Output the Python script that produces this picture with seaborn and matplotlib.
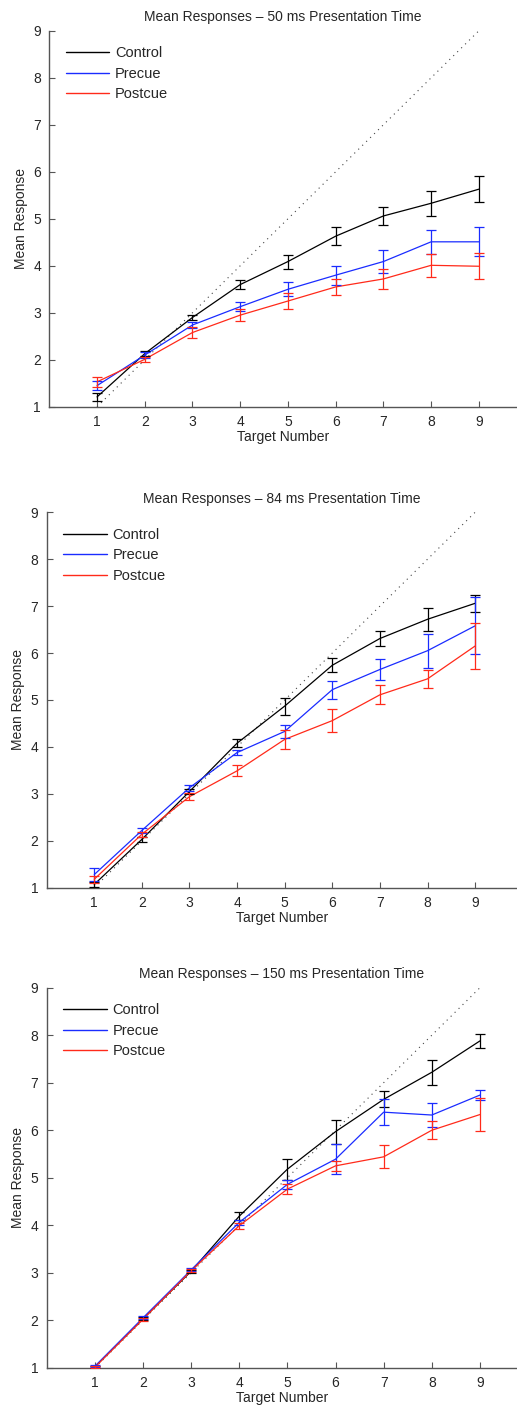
import numpy as np
import pandas as pd
import matplotlib
matplotlib.use("Agg")
import matplotlib.pyplot as plt
import seaborn as sns

sns.set_theme(style="white")
plt.rcParams["font.family"] = ["Liberation Sans", "DejaVu Sans"]

# Target numbers shown on the x axis
targets = [1, 2, 3, 4, 5, 6, 7, 8, 9]

# 50 ms presentation time
ctrl_50 = [1.21, 2.13, 2.90, 3.60, 4.09, 4.63, 5.06, 5.33, 5.63]
ctrl_50_err = [0.08, 0.05, 0.06, 0.10, 0.15, 0.19, 0.19, 0.27, 0.27]
pre_50 = [1.45, 2.10, 2.74, 3.13, 3.50, 3.80, 4.09, 4.51, 4.51]
pre_50_err = [0.10, 0.06, 0.07, 0.10, 0.15, 0.20, 0.25, 0.26, 0.31]
post_50 = [1.53, 2.01, 2.58, 2.95, 3.25, 3.55, 3.72, 4.01, 3.99]
post_50_err = [0.10, 0.05, 0.11, 0.13, 0.17, 0.17, 0.22, 0.24, 0.28]

# 84 ms presentation time
ctrl_84 = [1.07, 2.03, 3.05, 4.08, 4.87, 5.74, 6.31, 6.72, 7.06]
ctrl_84_err = [0.05, 0.05, 0.05, 0.08, 0.18, 0.15, 0.15, 0.24, 0.18]
pre_84 = [1.28, 2.22, 3.13, 3.88, 4.33, 5.22, 5.65, 6.05, 6.58]
pre_84_err = [0.14, 0.06, 0.06, 0.06, 0.14, 0.19, 0.23, 0.36, 0.61]
post_84 = [1.18, 2.14, 2.94, 3.49, 4.16, 4.56, 5.11, 5.45, 6.15]
post_84_err = [0.07, 0.05, 0.08, 0.12, 0.20, 0.24, 0.20, 0.19, 0.48]

# 150 ms presentation time
ctrl_150 = [1.02, 2.03, 3.03, 4.19, 5.18, 5.97, 6.65, 7.22, 7.88]
ctrl_150_err = [0.02, 0.03, 0.03, 0.08, 0.22, 0.25, 0.17, 0.26, 0.15]
pre_150 = [1.03, 2.05, 3.06, 4.06, 4.86, 5.39, 6.38, 6.32, 6.74]
pre_150_err = [0.02, 0.03, 0.03, 0.05, 0.10, 0.31, 0.28, 0.25, 0.11]
post_150 = [1.01, 2.02, 3.04, 3.99, 4.76, 5.25, 5.44, 6.00, 6.33]
post_150_err = [0.02, 0.03, 0.03, 0.06, 0.10, 0.11, 0.24, 0.19, 0.34]

conditions = ["Control", "Precue", "Postcue"]
colors = {"Control": "black", "Precue": "#1a2cff", "Postcue": "#ff2a1a"}
y_ticks = [1, 2, 3, 4, 5, 6, 7, 8, 9]

panels = [
    ("Mean Responses \u2013 50 ms Presentation Time",
     [ctrl_50, pre_50, post_50], [ctrl_50_err, pre_50_err, post_50_err]),
    ("Mean Responses \u2013 84 ms Presentation Time",
     [ctrl_84, pre_84, post_84], [ctrl_84_err, pre_84_err, post_84_err]),
    ("Mean Responses \u2013 150 ms Presentation Time",
     [ctrl_150, pre_150, post_150], [ctrl_150_err, pre_150_err, post_150_err]),
]

# axes rectangles in figure fractions: [left, bottom, width, height]
rects = [
    [0.0954, 0.7109, 0.9046, 0.2672],
    [0.0903, 0.3691, 0.9097, 0.2668],
    [0.0903, 0.0279, 0.9097, 0.2701],
]
xlims = [(0, 9.8), (0, 9.88), (0, 9.77)]

fig = plt.figure(figsize=(5.17, 14.07), dpi=100)
spine_col = "#555555"

for (title, means, errs), rect, xl in zip(panels, rects, xlims):
    ax = fig.add_axes(rect)
    df = pd.DataFrame({
        "Target Number": targets * 3,
        "Mean Response": np.concatenate(means),
        "Condition": np.repeat(conditions, len(targets)),
    })
    # identity reference line
    ax.plot([targets[0], targets[-1]], [targets[0], targets[-1]],
            linestyle=(0, (1, 4)), color="#444444", linewidth=0.8, zorder=1)
    sns.lineplot(data=df, x="Target Number", y="Mean Response",
                 hue="Condition", hue_order=conditions, palette=colors,
                 linewidth=0.9, ax=ax, legend=True, zorder=3)
    for cond, m, e in zip(conditions, means, errs):
        ax.errorbar(targets, m, yerr=e, fmt="none", ecolor=colors[cond],
                    elinewidth=0.9, capsize=3.5, capthick=0.9, zorder=3)

    ax.set_xlim(*xl)
    ax.set_ylim(1, 9)
    ax.set_xticks(targets)
    ax.set_yticks(y_ticks)
    ax.set_title(title, fontsize=10, pad=7)
    ax.set_xlabel("Target Number", fontsize=10, labelpad=1)
    ax.set_ylabel("Mean Response", fontsize=10, labelpad=4)
    ax.tick_params(direction="in", length=4, width=0.8, color=spine_col,
                   labelsize=10, pad=6, bottom=True, left=True)
    for side in ("top", "right"):
        ax.spines[side].set_visible(False)
    for side in ("left", "bottom"):
        ax.spines[side].set_color(spine_col)
        ax.spines[side].set_linewidth(1.0)

    leg = ax.legend(loc="upper left", frameon=False, fontsize=10.5,
                    handlelength=3.0, handletextpad=0.4, labelspacing=0.45,
                    borderaxespad=0.4, bbox_to_anchor=(0.01, 0.99))
    for h in leg.get_lines():
        h.set_linewidth(1.0)

fig.savefig("out.png", dpi=100)
